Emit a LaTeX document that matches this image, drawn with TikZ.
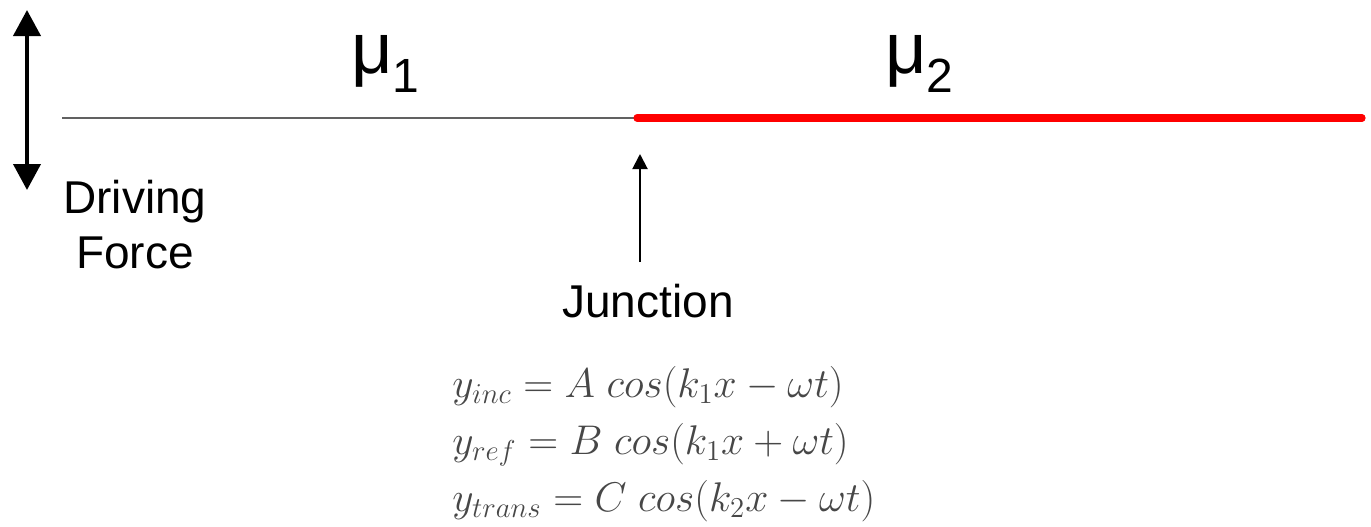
\documentclass[tikz,border=0pt]{standalone}
\usepackage{fontspec}
\setmainfont{Liberation Sans}
\usetikzlibrary{arrows.meta}
\begin{document}
\begin{tikzpicture}[x=0.5pt,y=-0.5pt,
  lbl/.style={inner sep=0pt,font=\fontsize{23}{27.5}\selectfont},
  mu/.style={inner sep=0pt,anchor=base west,font=\fontsize{36}{36}\selectfont},
  eqn/.style={inner sep=0pt,anchor=base west,text=black!72,font=\fontsize{20.5}{24}\selectfont},
  forcearrow/.style={line width=2pt,{Triangle[width=13.5pt,length=13pt]}-{Triangle[width=13.5pt,length=13pt]}},
  junctarrow/.style={line width=1pt,-{Triangle[width=7.5pt,length=7.5pt]}},
  string1/.style={line width=1.3pt,draw=black!62},
  string2/.style={line width=3.6pt,draw=red,line cap=round}]
\useasboundingbox (0,0) rectangle (1371,526);
% string
\coordinate (s0) at (62,118);
\coordinate (j) at (637,118);
\coordinate (s1) at (1362,118);
\draw[string1] (s0) -- (j);
\draw[string2] (j) -- (s1);
% driving force
\coordinate (fa) at (27,10);
\coordinate (fb) at (27,190);
\draw[forcearrow] (fa) -- (fb);
\node[lbl,anchor=north,align=center] (drive) at (135,180) {Driving\\Force};
% densities
\node[mu] (mu1) at (351,73) {μ\raisebox{-9.5pt}{\fontsize{24}{24}\selectfont 1}};
\node[mu] (mu2) at (885,73) {μ\raisebox{-9.5pt}{\fontsize{24}{24}\selectfont 2}};
% junction
\node[lbl,anchor=base] (junc) at (648,317) {Junction};
\coordinate (jt) at (640,262);
\coordinate (jh) at (640,154);
\draw[junctarrow] (jt) -- (jh);
% equations
\node[eqn] (e1) at (452,397) {$y_{inc} = A\; cos(k_1x - \omega t)$};
\node[eqn] (e2) at (452,454) {$y_{ref} = B\; cos(k_1x + \omega t)$};
\node[eqn] (e3) at (452,511) {$y_{trans} = C\; cos(k_2x - \omega t)$};
\end{tikzpicture}
\end{document}
